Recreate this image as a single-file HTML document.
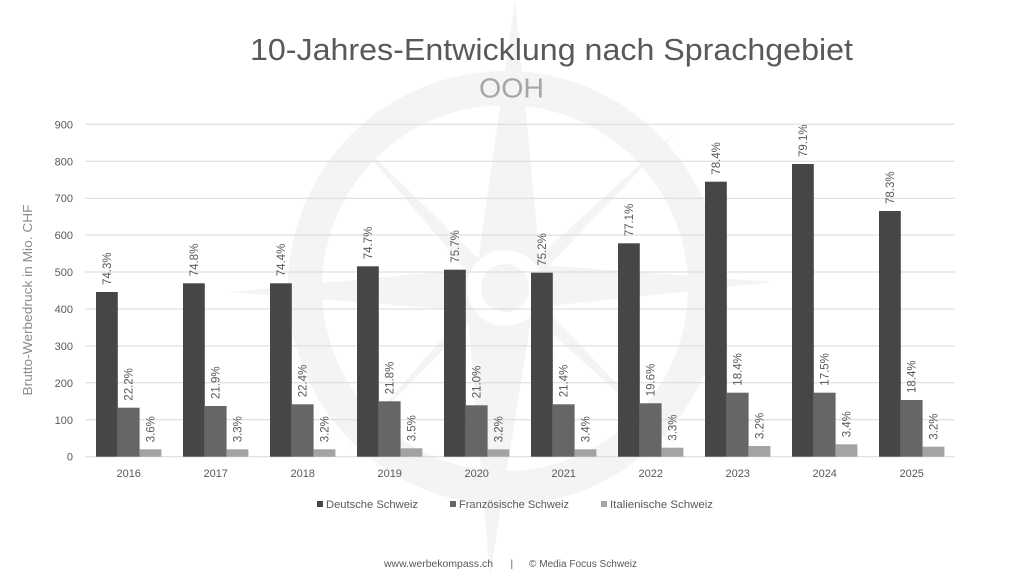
<!DOCTYPE html>
<html><head><meta charset="utf-8"><style>
html,body{margin:0;padding:0;background:#fff;}
svg{display:block;font-family:"Liberation Sans",Arial,sans-serif;}
</style></head><body>
<svg width="1024" height="576" viewBox="0 0 1024 576" xmlns="http://www.w3.org/2000/svg">
<rect width="1024" height="576" fill="#fff"/>
<!-- watermark compass -->
<g fill="#f4f4f4">
  <circle cx="505" cy="288" r="200" fill="none" stroke="#f4f4f4" stroke-width="34"/>
  <polygon points="515,0 540,260 505,288 478,262"/>
  <polygon points="490,576 468,316 505,288 532,314"/>
  <polygon points="228,292 480,268 505,288 482,312"/>
  <polygon points="775,282 530,308 505,288 528,264"/>
  <polygon points="345,128 490,270 505,288 485,292"/>
  <polygon points="680,128 522,272 505,288 520,296"/>
  <polygon points="345,450 488,304 505,288 490,284"/>
  <polygon points="680,450 520,304 505,288 524,286"/>
  <circle cx="505" cy="288" r="38" fill="#fff"/>
  <circle cx="505" cy="288" r="24" fill="#f4f4f4"/>
</g>
<!-- title -->
<text x="250" y="60" font-size="31" fill="#595959" textLength="603" lengthAdjust="spacingAndGlyphs">10-Jahres-Entwicklung nach Sprachgebiet</text>
<text x="479" y="97.5" font-size="27.5" fill="#a6a6a6" textLength="65" lengthAdjust="spacingAndGlyphs">OOH</text>
<!-- gridlines -->
<g stroke="#d9d9d9" stroke-width="1">
  <line x1="85" x2="955" y1="124.3" y2="124.3"/>
  <line x1="85" x2="955" y1="161.3" y2="161.3"/>
  <line x1="85" x2="955" y1="198.2" y2="198.2"/>
  <line x1="85" x2="955" y1="235.1" y2="235.1"/>
  <line x1="85" x2="955" y1="272" y2="272"/>
  <line x1="85" x2="955" y1="309" y2="309"/>
  <line x1="85" x2="955" y1="345.9" y2="345.9"/>
  <line x1="85" x2="955" y1="382.8" y2="382.8"/>
  <line x1="85" x2="955" y1="419.8" y2="419.8"/>
  <line x1="85" x2="955" y1="456.7" y2="456.7"/>
</g>
<!-- y tick labels -->
<g font-size="11" fill="#595959" text-anchor="end">
  <text x="73" y="128.3">900</text>
  <text x="73" y="165.3">800</text>
  <text x="73" y="202.2">700</text>
  <text x="73" y="239.1">600</text>
  <text x="73" y="276">500</text>
  <text x="73" y="313">400</text>
  <text x="73" y="349.9">300</text>
  <text x="73" y="386.8">200</text>
  <text x="73" y="423.8">100</text>
  <text x="73" y="460.7">0</text>
</g>
<text transform="translate(32,300) rotate(-90)" text-anchor="middle" font-size="13" fill="#8c8c8c" textLength="191" lengthAdjust="spacingAndGlyphs">Brutto-Werbedruck in Mio. CHF</text>
<!-- bars -->
<g id="bars"></g>
<g font-size="11" fill="#595959" text-anchor="middle" id="xl"></g>
<g font-size="11.5" fill="#595959" id="dl"></g>
<!-- legend -->
<g font-size="11" fill="#595959">
  <rect x="317" y="501" width="6" height="6" fill="#464646"/>
  <text x="326" y="508" textLength="92" lengthAdjust="spacingAndGlyphs">Deutsche Schweiz</text>
  <rect x="450" y="501" width="6" height="6" fill="#666666"/>
  <text x="459" y="508" textLength="110" lengthAdjust="spacingAndGlyphs">Französische Schweiz</text>
  <rect x="601" y="501" width="6" height="6" fill="#a3a3a3"/>
  <text x="610" y="508" textLength="103" lengthAdjust="spacingAndGlyphs">Italienische Schweiz</text>
</g>
<!-- footer -->
<g font-size="10" fill="#595959">
  <text x="384" y="567" textLength="109" lengthAdjust="spacingAndGlyphs">www.werbekompass.ch</text>
  <text x="510.5" y="567">|</text>
  <text x="529" y="567" textLength="108" lengthAdjust="spacingAndGlyphs">© Media Focus Schweiz</text>
</g>
<script>
var years=[2016,2017,2018,2019,2020,2021,2022,2023,2024,2025];
var tops=[[292,407.7,449.3],[283.3,406,449.3],[283.3,404.3,449.3],[266.3,401.3,448.3],[269.7,405.3,449.3],[272.7,404.3,449.3],[243.3,403.3,447.7],[181.7,392.7,446],[164,392.7,444.3],[211,400,446.7]];
var labs=[["74.3%","22.2%","3.6%"],["74.8%","21.9%","3.3%"],["74.4%","22.4%","3.2%"],["74.7%","21.8%","3.5%"],["75.7%","21.0%","3.2%"],["75.2%","21.4%","3.4%"],["77.1%","19.6%","3.3%"],["78.4%","18.4%","3.2%"],["79.1%","17.5%","3.4%"],["78.3%","18.4%","3.2%"]];
var cols=["#464646","#666666","#a3a3a3"];
var ns="http://www.w3.org/2000/svg";
var bars=document.getElementById("bars"),xl=document.getElementById("xl"),dl=document.getElementById("dl");
var bw=21.8,y0=456.7;
for(var i=0;i<10;i++){
  var gx=96+87*i;
  for(var s=0;s<3;s++){
    var x=gx+bw*s,t=tops[i][s];
    var r=document.createElementNS(ns,"rect");
    r.setAttribute("x",x);r.setAttribute("y",t);r.setAttribute("width",bw);r.setAttribute("height",y0-t);r.setAttribute("fill",cols[s]);
    bars.appendChild(r);
    var tx=document.createElementNS(ns,"text");
    var cx=x+bw/2+4,cy=t-7;
    tx.setAttribute("transform","translate("+cx+","+cy+") rotate(-90)");
    tx.textContent=labs[i][s];
    dl.appendChild(tx);
  }
  var lt=document.createElementNS(ns,"text");
  lt.setAttribute("x",gx+32.7);lt.setAttribute("y",477);lt.textContent=years[i];
  xl.appendChild(lt);
}
</script>
</svg>
</body></html>
